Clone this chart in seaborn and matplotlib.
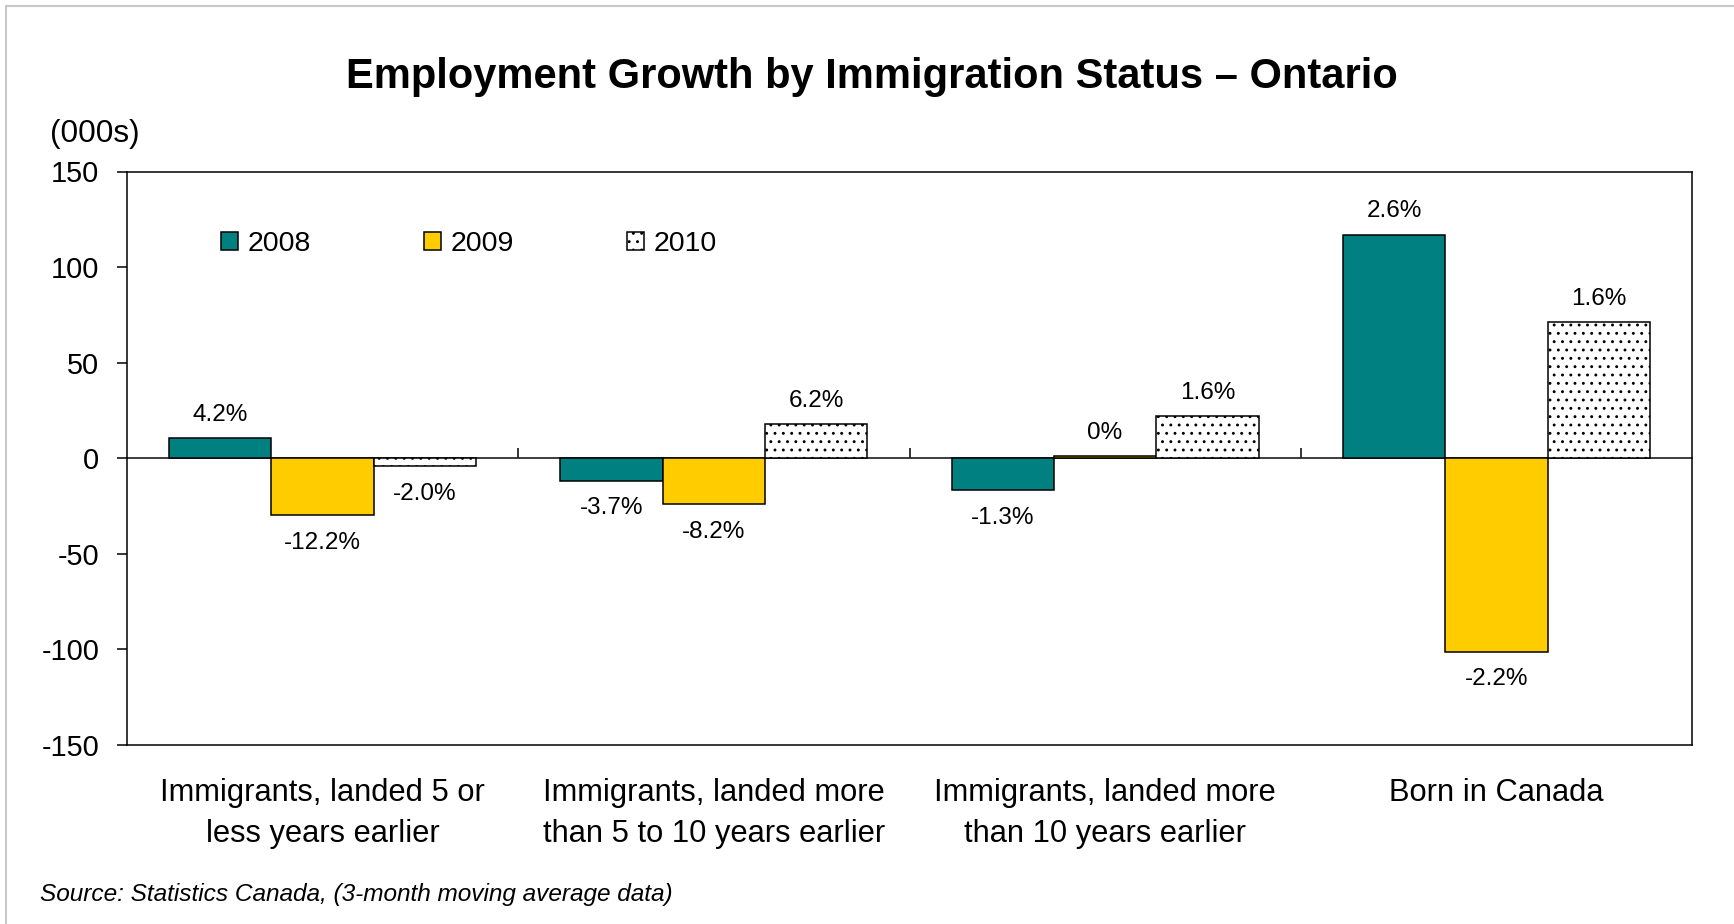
import numpy as np
import pandas as pd
import matplotlib
matplotlib.use("Agg")
import matplotlib.pyplot as plt
from matplotlib.lines import Line2D
import seaborn as sns

# Employment change (thousands) by immigration status, Ontario
categories = [
    "Immigrants, landed 5 or\nless years earlier",
    "Immigrants, landed more\nthan 5 to 10 years earlier",
    "Immigrants, landed more\nthan 10 years earlier",
    "Born in Canada",
]
years = ["2008", "2009", "2010"]
growth_2008 = [10.5, -11.7, -16.6, 117.0]
growth_2009 = [-29.8, -24.1, 1.0, -101.2]
growth_2010 = [-4.2, 17.9, 22.0, 71.2]
pct_2008 = ["4.2%", "-3.7%", "-1.3%", "2.6%"]
pct_2009 = ["-12.2%", "-8.2%", "0%", "-2.2%"]
pct_2010 = ["-2.0%", "6.2%", "1.6%", "1.6%"]
y_ticks = [-150, -100, -50, 0, 50, 100, 150]

series = {"2008": growth_2008, "2009": growth_2009, "2010": growth_2010}
pct_labels = {"2008": pct_2008, "2009": pct_2009, "2010": pct_2010}
colors = {"2008": "#008080", "2009": "#FFCC00", "2010": "#FFFFFF"}

df = pd.DataFrame(
    [(cat, yr, series[yr][i]) for yr in years for i, cat in enumerate(categories)],
    columns=["category", "year", "value"],
)

sns.set_theme(style="white")
plt.rcParams["font.family"] = ["Liberation Sans", "DejaVu Sans"]
plt.rcParams["hatch.linewidth"] = 0.9
plt.rcParams["axes.unicode_minus"] = False
plt.rcParams["text.color"] = "black"

W, H = 1734, 924
fig = plt.figure(figsize=(W / 100, H / 100), dpi=100)
fig.patch.set_facecolor("white")
ax = fig.add_axes([127 / W, 1 - 745 / H, (1692 - 127) / W, (745 - 171.5) / H])

sns.barplot(
    data=df, x="category", y="value", hue="year", order=categories,
    hue_order=years, palette=colors, width=0.785, saturation=1,
    edgecolor="black", linewidth=1.1, legend=False, ax=ax,
)

# dotted fill for the 2010 series
for patch in ax.containers[2].patches:
    patch.set_hatch("..")

# percentage labels: above rising bars, below falling bars
for cont, yr in zip(ax.containers, years):
    vals = series[yr]
    labs = pct_labels[yr]
    ax.bar_label(cont, labels=[l if v >= 0 else "" for l, v in zip(labs, vals)],
                 padding=9, fontsize=17.5, color="black")
    ax.bar_label(cont, labels=[l if v < 0 else "" for l, v in zip(labs, vals)],
                 padding=12, fontsize=17.5, color="black")

ymin, ymax = y_ticks[0], y_ticks[-1]
ax.set_ylim(ymin, ymax)
ax.set_xlim(-0.5, len(categories) - 0.5)
ax.set_yticks(y_ticks)
ax.set_xlabel("")
ax.set_ylabel("")

for sp in ax.spines.values():
    sp.set_visible(True)
    sp.set_color("black")
    sp.set_linewidth(1.1)

ax.tick_params(axis="y", left=True, length=7, width=1.1, direction="out",
               pad=13, labelsize=20.8, colors="black")
ax.tick_params(axis="x", bottom=False, length=0, pad=24, labelsize=22.2,
               colors="black")
for lbl in ax.get_xticklabels():
    lbl.set_linespacing(1.46)

# category axis crossing at zero with tick marks between groups
zero_frac = (0 - ymin) / (ymax - ymin)
sec = ax.secondary_xaxis(zero_frac)
boundaries = np.arange(len(categories) - 1) + 0.5
sec.set_xticks(boundaries)
sec.set_xticklabels([])
sec.tick_params(axis="x", length=7, width=1.1, direction="out", colors="black")
sec.spines["bottom"].set_linewidth(1.1)
sec.spines["bottom"].set_color("black")

ax.legend(
    handles=list(ax.containers), labels=years, ncol=3, loc="center left",
    bbox_to_anchor=(0.06, 0.873), frameon=False, fontsize=20.5,
    handlelength=0.6, handleheight=0.6, handletextpad=0.35,
    columnspacing=3.95, borderpad=0, borderaxespad=0,
)

fig.text(0.503, 1 - 77 / H, "Employment Growth by Immigration Status \u2013 Ontario",
         ha="center", va="center", fontsize=30, fontweight="bold", color="black")
fig.text(50 / W, 1 - 134 / H, "(000s)", ha="left", va="center", fontsize=22.8,
         color="black")
fig.text(40 / W, 1 - 894 / H,
         "Source: Statistics Canada, (3-month moving average data)",
         ha="left", va="center", fontsize=17.6, style="italic", color="black")

# light frame along the top and left edges
fig.add_artist(Line2D([6 / W, 6 / W], [0, 1 - 6 / H], transform=fig.transFigure,
                      color="#c8c8c8", linewidth=1.5))
fig.add_artist(Line2D([6 / W, 1], [1 - 6 / H, 1 - 6 / H], transform=fig.transFigure,
                      color="#c8c8c8", linewidth=1.5))

fig.savefig("out.png", dpi=100, facecolor="white")
